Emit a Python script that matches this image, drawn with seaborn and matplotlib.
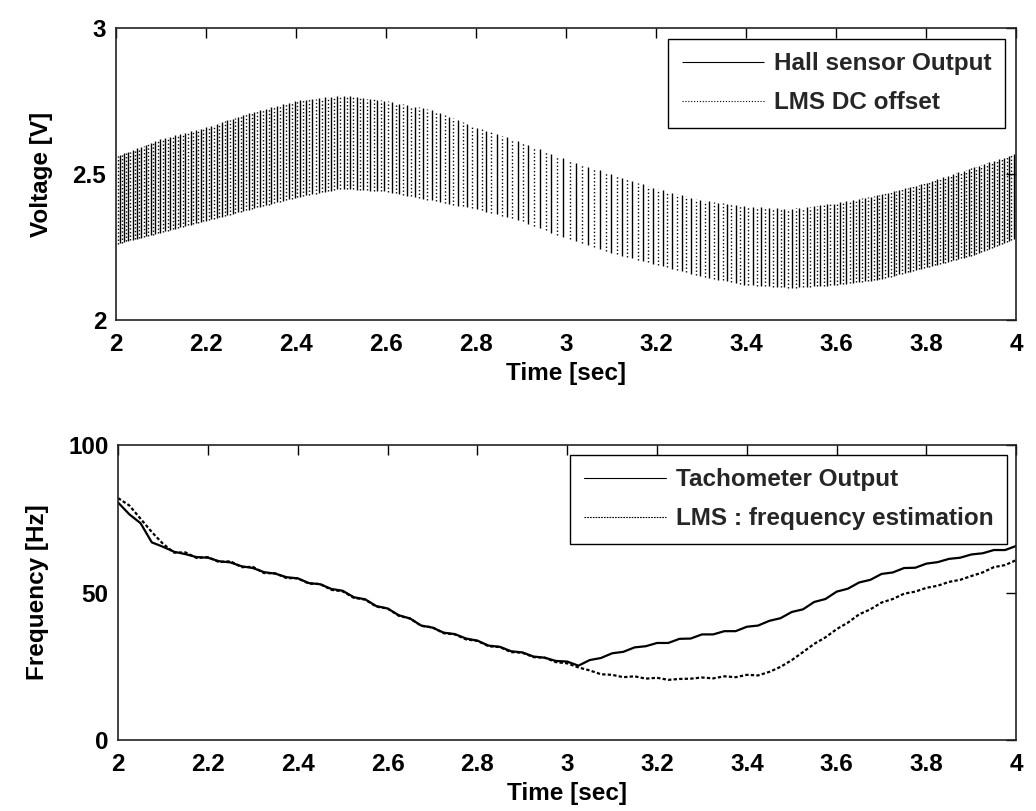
import numpy as np
import pandas as pd
import matplotlib
matplotlib.use("Agg")
import matplotlib.pyplot as plt
from matplotlib.ticker import FuncFormatter
import seaborn as sns

# ---------------- data ----------------
# frequency curves, sampled every 0.025 s from t = 2 to t = 4
time = np.round(np.linspace(2.0, 4.0, 81), 3)
tacho = [80.5, 76.5, 73.5, 67, 65.5, 63.8, 63, 62, 61.8, 60.6,
         60.2, 58.9, 58.3, 56.9, 56.4, 55.2, 54.8, 53.2, 52.8, 51.2,
         50.6, 48.4, 47.7, 45.4, 44.6, 42.3, 41.2, 38.8, 38.1, 36.4,
         35.9, 34.4, 33.7, 32.0, 31.6, 30.1, 29.7, 28.3, 27.9, 26.8,
         26.6, 25.2, 27.1, 27.8, 29.4, 29.9, 31.4, 31.8, 32.9, 32.9,
         34.3, 34.4, 35.8, 35.8, 36.9, 36.9, 38.4, 38.8, 40.4, 41.3,
         43.4, 44.3, 46.8, 47.8, 50.3, 51.3, 53.4, 54.3, 56.3, 56.8,
         58.3, 58.4, 59.8, 60.3, 61.4, 61.8, 62.9, 63.3, 64.4, 64.4,
         65.8]
lms_freq = [82, 79.5, 75, 70.5, 66.5, 63.5, 63.6, 61.7, 62, 60.3,
            60.6, 58.6, 58.7, 56.6, 56.5, 54.9, 54.8, 53, 52.9, 50.9,
            50.4, 48.2, 47.6, 45.2, 44.6, 42.1, 41.2, 38.7, 38.2, 36.2,
            35.8, 34.1, 33.6, 31.8, 31.5, 29.8, 29.6, 28.1, 27.9, 26.4,
            26, 24.6, 23.6, 22.3, 22.1, 21.3, 21.6, 20.8, 21.1, 20.4,
            20.7, 20.8, 21.2, 20.9, 21.6, 21.3, 22.1, 21.9, 23.1, 24.8,
            27.1, 29.8, 32.6, 34.8, 37.6, 39.8, 42.6, 44.3, 46.6, 47.8,
            49.6, 50.3, 51.6, 52.3, 53.6, 54.3, 55.6, 56.8, 58.6, 59.3,
            61]

# Hall sensor: high / low levels of the square wave, read every 0.1 s
hall_knots = [2.0, 2.1, 2.2, 2.3, 2.4, 2.5, 2.6, 2.7, 2.8, 2.9, 3.0,
              3.1, 3.2, 3.3, 3.4, 3.5, 3.6, 3.7, 3.8, 3.9, 4.0]
hall_high = [2.56, 2.62, 2.66, 2.71, 2.75, 2.77, 2.75, 2.72, 2.66, 2.61, 2.55,
             2.50, 2.45, 2.41, 2.39, 2.38, 2.40, 2.43, 2.47, 2.52, 2.57]
hall_low = [2.26, 2.30, 2.34, 2.38, 2.42, 2.45, 2.44, 2.41, 2.38, 2.34, 2.28,
            2.23, 2.19, 2.15, 2.12, 2.11, 2.12, 2.14, 2.18, 2.22, 2.28]
hall_cycles_per_hz = 0.7   # hall square-wave cycles per tachometer Hz

x_ticks = [2, 2.2, 2.4, 2.6, 2.8, 3, 3.2, 3.4, 3.6, 3.8, 4]
v_ticks = [2, 2.5, 3]
f_ticks = [0, 50, 100]

# ---------------- hall waveform switching edges from the read data ----------------
tt = np.linspace(2.0, 4.0, 20001)
f_t = np.interp(tt, time, tacho)
cyc = np.cumsum(f_t) * (tt[1] - tt[0]) * hall_cycles_per_hz
hi = np.interp(tt, hall_knots, hall_high)
lo = np.interp(tt, hall_knots, hall_low)
k_hall = np.floor(cyc * 2)
k_dc = np.floor(cyc * 2 + 0.5)
e_hall = np.nonzero(np.diff(k_hall))[0] + 1
e_dc = np.nonzero(np.diff(k_dc))[0] + 1

df_bot = pd.DataFrame({"t": time, "tacho": tacho, "lms": lms_freq})

# ---------------- style ----------------
sns.set_theme(style="white")
plt.rcParams["font.family"] = ["Liberation Sans", "DejaVu Sans"]
plt.rcParams["font.weight"] = "bold"
FS = 17.5

fig = plt.figure(figsize=(10.36, 8.11), dpi=100)
ax1 = fig.add_axes([0.112, 0.6054, 0.869, 0.3600])
ax2 = fig.add_axes([0.114, 0.0875, 0.867, 0.3638])

ax1.vlines(tt[e_hall], lo[e_hall], hi[e_hall], color="black", lw=1.0,
           label="Hall sensor Output")
ax1.vlines(tt[e_dc], lo[e_dc], hi[e_dc], color="black", lw=1.0,
           linestyles=[(0, (1, 1.6))], label="LMS DC offset")

sns.lineplot(data=df_bot, x="t", y="tacho", ax=ax2, color="black", lw=1.6,
             estimator=None, sort=False, label="Tachometer Output")
sns.lineplot(data=df_bot, x="t", y="lms", ax=ax2, color="black", lw=1.6,
             linestyle=(0, (1.5, 1.0)), estimator=None, sort=False,
             label="LMS : frequency estimation")

fmt = FuncFormatter(lambda v, p: f"{v:g}")
for ax, yt, ylab, ylim in [(ax1, v_ticks, "Voltage [V]", (2, 3)),
                           (ax2, f_ticks, "Frequency [Hz]", (0, 100))]:
    ax.set_xlim(2, 4)
    ax.set_ylim(*ylim)
    ax.set_xticks(x_ticks)
    ax.set_yticks(yt)
    ax.xaxis.set_major_formatter(fmt)
    ax.yaxis.set_major_formatter(fmt)
    ax.tick_params(direction="in", length=7, width=1, color="black",
                   top=True, right=True, labelsize=FS, labelcolor="black")
    ax.tick_params(axis="x", pad=9)
    ax.tick_params(axis="y", pad=7)
    for s in ax.spines.values():
        s.set_color("#222222")
        s.set_linewidth(1.2)
        s.set_visible(True)
    ax.set_xlabel("Time [sec]", fontsize=FS, color="black", labelpad=5,
                  fontweight="bold")
    ax.set_ylabel(ylab, fontsize=FS, color="black", labelpad=14,
                  fontweight="bold")
    ax.grid(False)

leg_kw = dict(frameon=True, fancybox=False, framealpha=1,
              edgecolor="black", handlelength=3.4, handletextpad=0.4,
              borderpad=0.55, labelspacing=0.65, borderaxespad=0,
              prop={"size": FS, "weight": "bold"})
leg1 = ax1.legend(loc="upper right", bbox_to_anchor=(1005 / 1036, 1 - 39 / 811),
                  bbox_transform=fig.transFigure, **leg_kw)
leg2 = ax2.legend(loc="upper right", bbox_to_anchor=(1007 / 1036, 1 - 455 / 811),
                  bbox_transform=fig.transFigure, **leg_kw)
for lg in (leg1, leg2):
    lg.get_frame().set_linewidth(1.0)
    for h in lg.legend_handles:
        try:
            h.set_linewidth(0.8)
        except Exception:
            pass

fig.savefig("out.png", dpi=100, facecolor="white")
